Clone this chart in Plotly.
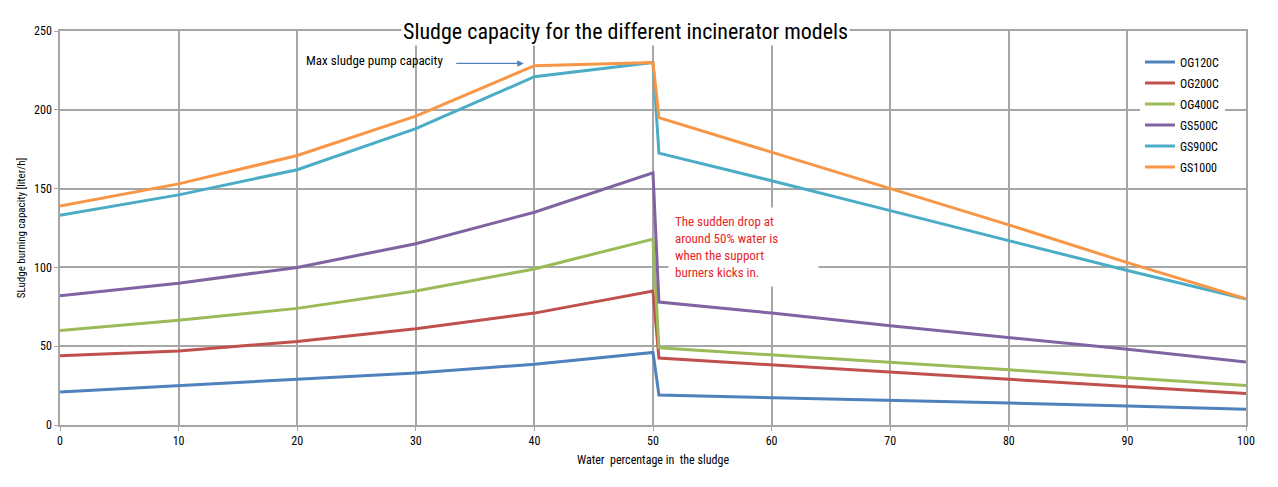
import plotly.graph_objects as go

water = [0, 10, 20, 30, 40, 50, 50.5, 60, 70, 80, 90, 100]
og120c = [21, 25, 29, 33, 38.5, 46, 19, 17.5, 15.5, 14, 12, 10]
og200c = [44, 47, 53, 61, 71, 85, 42.5, 38, 33.5, 29, 24.5, 20]
og400c = [60, 66.5, 74, 85, 99, 118, 49, 44.5, 40, 35, 30, 25]
gs500c = [82, 90, 100, 115, 135, 160, 78, 71, 63, 55.5, 48, 40]
gs900c = [133, 146, 162, 188, 221, 230, 172.5, 155, 136, 117, 98, 80]
gs1000 = [139, 153, 171, 196, 228, 230, 195, 173, 150, 127, 103, 80]

series = [
    ("OG120C", og120c, "#4F81BD"),
    ("OG200C", og200c, "#C0504D"),
    ("OG400C", og400c, "#9BBB59"),
    ("GS500C", gs500c, "#8064A2"),
    ("GS900C", gs900c, "#4BACC6"),
    ("GS1000", gs1000, "#F79646"),
]

FONT = "Liberation Sans Narrow, Roboto Condensed, Arial Narrow, Liberation Sans, sans-serif"

fig = go.Figure()
for name, vals, col in series:
    fig.add_trace(go.Scatter(x=water, y=vals, name=name, mode="lines", legendgroup=name,
                             line=dict(color=col, width=3)))

grid = "#A6A6A6"
fig.update_layout(
    width=1278, height=487,
    margin=dict(l=60, r=32, t=31, b=62),
    paper_bgcolor="white", plot_bgcolor="white",
    font=dict(family=FONT, size=12, color="#000000"),
    showlegend=True,
    legend=dict(x=0.9106, y=0.958, xanchor="left", yanchor="top",
                bgcolor="white", borderwidth=0,
                font=dict(family=FONT, size=12, color="#000"),
                itemwidth=30, tracegroupgap=2),
    xaxis=dict(range=[0, 100], tickmode="array", tickvals=list(range(0, 101, 10)),
               showgrid=True, gridcolor=grid, gridwidth=1.5,
               showline=True, linecolor=grid, linewidth=1.5, mirror=True,
               ticks="outside", ticklen=4, tickcolor=grid, zeroline=False,
               tickfont=dict(family=FONT, size=12, color="#000"),
               title=dict(text="Water  percentage in  the sludge",
                          font=dict(family=FONT, size=12, color="#000"), standoff=8)),
    yaxis=dict(range=[0, 250], tickmode="array", tickvals=list(range(0, 251, 50)),
               showgrid=True, gridcolor=grid, gridwidth=1.5,
               showline=True, linecolor=grid, linewidth=1.5, mirror=True,
               ticks="outside", ticklen=4, tickcolor=grid, zeroline=False,
               tickfont=dict(family=FONT, size=12, color="#000"),
               title=dict(text="SLudge burning capacity [liter/h]",
                          font=dict(family=FONT, size=11, color="#000"), standoff=6)),
)

fig.add_annotation(xref="paper", yref="paper", x=0.477, y=1.0, yanchor="middle",
                   text="Sludge capacity for the different incinerator models",
                   showarrow=False, bgcolor="white",
                   font=dict(family=FONT, size=22, color="#000"))

fig.add_annotation(x=39.1, y=229.4, ax=-69, ay=0, xref="x", yref="y",
                   axref="pixel", ayref="pixel",
                   text="", showarrow=True, arrowhead=2, arrowsize=1, arrowwidth=1.3,
                   arrowcolor="#4F81BD")
fig.add_annotation(x=32.46, y=231.6, xref="x", yref="y", xanchor="right",
                   text="Max sludge pump capacity", showarrow=False,
                   font=dict(family=FONT, size=13, color="#000"))

fig.add_annotation(x=51.27, y=113, xref="x", yref="y", xanchor="left", yanchor="middle",
                   align="left", width=137,
                   text="The sudden drop at<br>around 50% water is<br>when the support<br>burners kicks in.",
                   showarrow=False, bgcolor="white", borderpad=6,
                   font=dict(family=FONT, size=13, color="#E8262A"))

fig.write_html("out.html")
